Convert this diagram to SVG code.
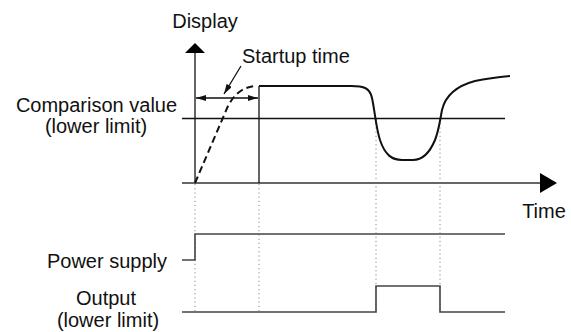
<svg xmlns="http://www.w3.org/2000/svg" width="571" height="332" viewBox="0 0 571 332">
<style>
text{font-family:"Liberation Sans",Arial,sans-serif;font-size:20px;fill:#111}
.ax{stroke:#666;stroke-width:2;fill:none}
.sig{stroke:#111;stroke-width:2;fill:none}
.thin{stroke:#111;stroke-width:1.3;fill:none}
.dot{stroke:#888;stroke-width:1;stroke-dasharray:1.2 3;fill:none}
.lvl{stroke:#444;stroke-width:1.6;fill:none}
</style>
<defs>
<marker id="ah" viewBox="0 0 10 6" refX="10" refY="3" markerWidth="10" markerHeight="6" markerUnits="userSpaceOnUse" orient="auto-start-reverse">
<path d="M0,0 L10,3 L0,6 Z" fill="#111"/>
</marker>
</defs>
<g id="labels">
<text x="205" y="28" text-anchor="middle">Display</text>
<text x="242" y="63">Startup time</text>
<text x="96.5" y="112" text-anchor="middle">Comparison value</text>
<text x="96" y="133" text-anchor="middle">(lower limit)</text>
<text x="544" y="218" text-anchor="middle">Time</text>
<text x="167" y="268" text-anchor="end">Power supply</text>
<text x="106" y="305" text-anchor="middle">Output</text>
<text x="108" y="327" text-anchor="middle">(lower limit)</text>
</g>
<g id="connectors">
<line class="dot" x1="195" y1="184" x2="195" y2="312"/>
<line class="dot" x1="259" y1="184" x2="259" y2="312"/>
<line class="dot" x1="376" y1="119" x2="376" y2="312"/>
<line class="dot" x1="440" y1="119" x2="440" y2="312"/>
<line class="ax" x1="195" y1="183" x2="195" y2="52"/>
<path d="M195,43 L185,53 L205,53 Z" fill="#000"/>
<line class="ax" x1="182" y1="183" x2="541" y2="183"/>
<path d="M557,183 L540,173 L540,193 Z" fill="#000"/>
<line class="thin" x1="182" y1="118.5" x2="505" y2="118.5"/>
<line class="thin" x1="259" y1="86" x2="259" y2="183"/>
<line class="thin" x1="196" y1="98" x2="258" y2="98" marker-start="url(#ah)" marker-end="url(#ah)"/>
<line class="thin" x1="241" y1="66" x2="224" y2="94" marker-end="url(#ah)"/>
<path class="sig" d="M195,183 L228,106 Q238,87 256,86" stroke-dasharray="7 4"/>
<path class="sig" d="M259,86 L351,86 C364,86 370,88 372,98 C375,112 376,128 380,140 C385,155 392,160 402,160 L413,160 C423,160 430,152 435,140 C439,130 440,120 442,110 C446,93 460,85 475,81 C490,78 500,77 510,76"/>
<path class="lvl" d="M182,260 L195,260 L195,234 L505,234"/>
<path class="lvl" d="M182,312 L376,312 L376,286 L440,286 L440,312 L505,312"/>
</g>
</svg>
